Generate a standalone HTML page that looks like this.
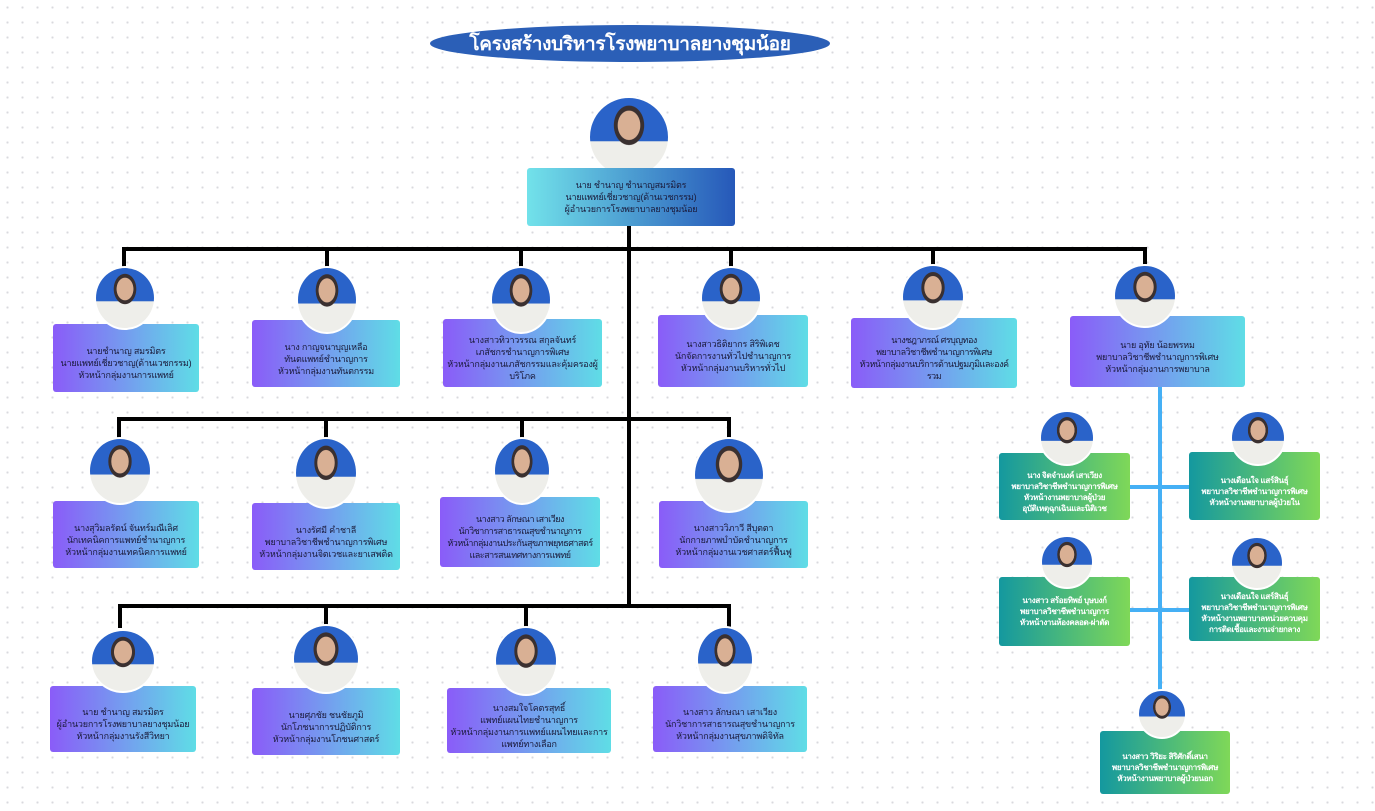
<!DOCTYPE html>
<html><head><meta charset="utf-8"><style>
body{margin:0;width:1375px;height:811px;overflow:hidden;background:#fff;background-image:radial-gradient(#d9d9de 1px,transparent 1.2px);background-size:15px 15px;position:relative;font-family:"Liberation Sans","Noto Sans CJK SC",sans-serif}
.b{position:absolute;border-radius:3px;display:flex;align-items:center;justify-content:center;text-align:center;font-size:9px;line-height:12px;color:#1a1a3a;box-sizing:border-box;padding:14px 2px 4px;letter-spacing:-0.2px}
.p{background:linear-gradient(90deg,#8a5cf8,#5fdde6)}
.g{background:linear-gradient(90deg,#14989f,#7fd858);color:#fff;font-weight:bold;font-size:8px;line-height:11px;letter-spacing:-0.3px}
.ph{position:absolute;border-radius:50%;background:radial-gradient(ellipse at 50% 35%,#d9b094 0 20%,#3a3030 21% 27%,transparent 28%),linear-gradient(180deg,#2a63c9 0 55%,#eeeeea 56%);border:2px solid #fff;box-sizing:border-box}
.l{position:absolute;background:#000}
.bl{position:absolute;background:#45b0f5}
</style></head><body>
<div style="position:absolute;left:430px;top:25px;width:400px;height:37px;border-radius:50%;background:#2b5fb7;color:#fff;font-size:19px;font-weight:bold;display:flex;align-items:center;justify-content:center;letter-spacing:-0.3px">โครงสร้างบริหารโรงพยาบาลยางชุมน้อย</div>

<div class="l" style="left:627px;top:226px;width:4px;height:380px"></div>
<div class="l" style="left:122px;top:247px;width:1025px;height:4px"></div>
<div class="l" style="left:122px;top:247px;width:4px;height:24px"></div>
<div class="l" style="left:325px;top:247px;width:4px;height:24px"></div>
<div class="l" style="left:519px;top:247px;width:4px;height:24px"></div>
<div class="l" style="left:729px;top:247px;width:4px;height:24px"></div>
<div class="l" style="left:931px;top:247px;width:4px;height:24px"></div>
<div class="l" style="left:1143px;top:247px;width:4px;height:24px"></div>
<div class="l" style="left:117px;top:417px;width:613px;height:4px"></div>
<div class="l" style="left:117px;top:417px;width:4px;height:24px"></div>
<div class="l" style="left:324px;top:417px;width:4px;height:24px"></div>
<div class="l" style="left:520px;top:417px;width:4px;height:24px"></div>
<div class="l" style="left:727px;top:417px;width:4px;height:24px"></div>
<div class="l" style="left:118px;top:604px;width:612px;height:4px"></div>
<div class="l" style="left:118px;top:604px;width:4px;height:24px"></div>
<div class="l" style="left:324px;top:604px;width:4px;height:24px"></div>
<div class="l" style="left:524px;top:604px;width:4px;height:24px"></div>
<div class="l" style="left:727px;top:604px;width:4px;height:24px"></div>
<div class="bl" style="left:1158px;top:387px;width:4px;height:306px"></div>
<div class="bl" style="left:1130px;top:485px;width:60px;height:4px"></div>
<div class="bl" style="left:1130px;top:608px;width:60px;height:4px"></div>

<div class="ph" style="left:588px;top:96px;width:82px;height:82px"></div>
<div class="b" style="left:527px;top:168px;width:208px;height:58px;background:linear-gradient(90deg,#72e2ea,#2658b9);padding:4px">นาย ชำนาญ ชำนาญสมรมิตร<br>นายแพทย์เชี่ยวชาญ(ด้านเวชกรรม)<br>ผู้อำนวยการโรงพยาบาลยางชุมน้อย</div>

<div class="b p" style="left:53px;top:324px;width:146px;height:68px">นายชำนาญ สมรมิตร<br>นายแพทย์เชี่ยวชาญ(ด้านเวชกรรม)<br>หัวหน้ากลุ่มงานการแพทย์</div>
<div class="ph" style="left:94px;top:266px;width:62px;height:64px"></div>
<div class="b p" style="left:252px;top:320px;width:148px;height:67px">นาง กาญจนาบุญเหลือ<br>ทันตแพทย์ชำนาญการ<br>หัวหน้ากลุ่มงานทันตกรรม</div>
<div class="ph" style="left:296px;top:266px;width:62px;height:68px"></div>
<div class="b p" style="left:443px;top:319px;width:159px;height:68px">นางสาวทิวาวรรณ สกุลจันทร์<br>เภสัชกรชำนาญการพิเศษ<br>หัวหน้ากลุ่มงานเภสัชกรรมและคุ้มครองผู้บริโภค</div>
<div class="ph" style="left:490px;top:266px;width:62px;height:68px"></div>
<div class="b p" style="left:658px;top:315px;width:150px;height:72px">นางสาวธิติยากร สิริพิเดช<br>นักจัดการงานทั่วไปชำนาญการ<br>หัวหน้ากลุ่มงานบริหารทั่วไป</div>
<div class="ph" style="left:700px;top:266px;width:62px;height:64px"></div>
<div class="b p" style="left:851px;top:318px;width:166px;height:70px;letter-spacing:-0.5px">นางชฎาภรณ์ ศรบุญทอง<br>พยาบาลวิชาชีพชำนาญการพิเศษ<br>หัวหน้ากลุ่มงานบริการด้านปฐมภูมิและองค์รวม</div>
<div class="ph" style="left:901px;top:264px;width:64px;height:66px"></div>
<div class="b p" style="left:1070px;top:316px;width:175px;height:71px">นาย อุทัย น้อยพรหม<br>พยาบาลวิชาชีพชำนาญการพิเศษ<br>หัวหน้ากลุ่มงานการพยาบาล</div>
<div class="ph" style="left:1113px;top:264px;width:64px;height:64px"></div>

<div class="b p" style="left:53px;top:501px;width:146px;height:67px">นางสุวิมลรัตน์ จันทร์มณีเลิศ<br>นักเทคนิคการแพทย์ชำนาญการ<br>หัวหน้ากลุ่มงานเทคนิคการแพทย์</div>
<div class="ph" style="left:88px;top:437px;width:64px;height:68px"></div>
<div class="b p" style="left:252px;top:503px;width:148px;height:67px">นางรัศมี คำชาลี<br>พยาบาลวิชาชีพชำนาญการพิเศษ<br>หัวหน้ากลุ่มงานจิตเวชและยาเสพติด</div>
<div class="ph" style="left:294px;top:437px;width:64px;height:72px"></div>
<div class="b p" style="left:440px;top:497px;width:160px;height:70px;letter-spacing:-0.5px">นางสาว ลักษณา เสาเวียง<br>นักวิชาการสาธารณสุขชำนาญการ<br>หัวหน้ากลุ่มงานประกันสุขภาพยุทธศาสตร์และสารสนเทศทางการแพทย์</div>
<div class="ph" style="left:493px;top:437px;width:58px;height:68px"></div>
<div class="b p" style="left:659px;top:501px;width:149px;height:67px">นางสาววิภาวี สีบุตตา<br>นักกายภาพบำบัดชำนาญการ<br>หัวหน้ากลุ่มงานเวชศาสตร์ฟื้นฟู</div>
<div class="ph" style="left:693px;top:437px;width:72px;height:76px"></div>

<div class="b p" style="left:50px;top:686px;width:146px;height:66px">นาย ชำนาญ สมรมิตร<br>ผู้อำนวยการโรงพยาบาลยางชุมน้อย<br>หัวหน้ากลุ่มงานรังสีวิทยา</div>
<div class="ph" style="left:90px;top:629px;width:66px;height:64px"></div>
<div class="b p" style="left:252px;top:688px;width:148px;height:67px">นายศุภชัย ชนชัยภูมิ<br>นักโภชนาการปฏิบัติการ<br>หัวหน้ากลุ่มงานโภชนศาสตร์</div>
<div class="ph" style="left:292px;top:624px;width:68px;height:70px"></div>
<div class="b p" style="left:447px;top:688px;width:164px;height:65px">นางสมใจโคตรสุทธิ์<br>แพทย์แผนไทยชำนาญการ<br>หัวหน้ากลุ่มงานการแพทย์แผนไทยและการแพทย์ทางเลือก</div>
<div class="ph" style="left:494px;top:626px;width:64px;height:70px"></div>
<div class="b p" style="left:653px;top:686px;width:154px;height:66px">นางสาว ลักษณา เสาเวียง<br>นักวิชาการสาธารณสุขชำนาญการ<br>หัวหน้ากลุ่มงานสุขภาพดิจิทัล</div>
<div class="ph" style="left:696px;top:626px;width:58px;height:68px"></div>

<div class="b g" style="left:999px;top:453px;width:131px;height:67px">นาง จิตจำนงค์ เสาเวียง<br>พยาบาลวิชาชีพชำนาญการพิเศษ<br>หัวหน้างานพยาบาลผู้ป่วย<br>อุบัติเหตุฉุกเฉินและนิติเวช</div>
<div class="ph" style="left:1039px;top:410px;width:56px;height:56px"></div>
<div class="b g" style="left:1189px;top:452px;width:131px;height:68px">นางเดือนใจ แสร์สินธุ์<br>พยาบาลวิชาชีพชำนาญการพิเศษ<br>หัวหน้างานพยาบาลผู้ป่วยใน</div>
<div class="ph" style="left:1230px;top:410px;width:56px;height:56px"></div>
<div class="b g" style="left:999px;top:577px;width:131px;height:69px;padding-top:4px">นางสาว สร้อยทิพย์ บุษบงก์<br>พยาบาลวิชาชีพชำนาญการ<br>หัวหน้างานห้องคลอด-ผ่าตัด</div>
<div class="ph" style="left:1040px;top:535px;width:54px;height:54px"></div>
<div class="b g" style="left:1189px;top:577px;width:131px;height:64px;padding-top:12px">นางเดือนใจ แสร์สินธุ์<br>พยาบาลวิชาชีพชำนาญการพิเศษ<br>หัวหน้างานพยาบาลหน่วยควบคุม<br>การติดเชื้อและงานจ่ายกลาง</div>
<div class="ph" style="left:1230px;top:536px;width:54px;height:54px"></div>
<div class="b g" style="left:1100px;top:731px;width:130px;height:63px">นางสาว วิริยะ สิริศักดิ์เสนา<br>พยาบาลวิชาชีพชำนาญการพิเศษ<br>หัวหน้างานพยาบาลผู้ป่วยนอก</div>
<div class="ph" style="left:1137px;top:689px;width:50px;height:50px"></div>
</body></html>
